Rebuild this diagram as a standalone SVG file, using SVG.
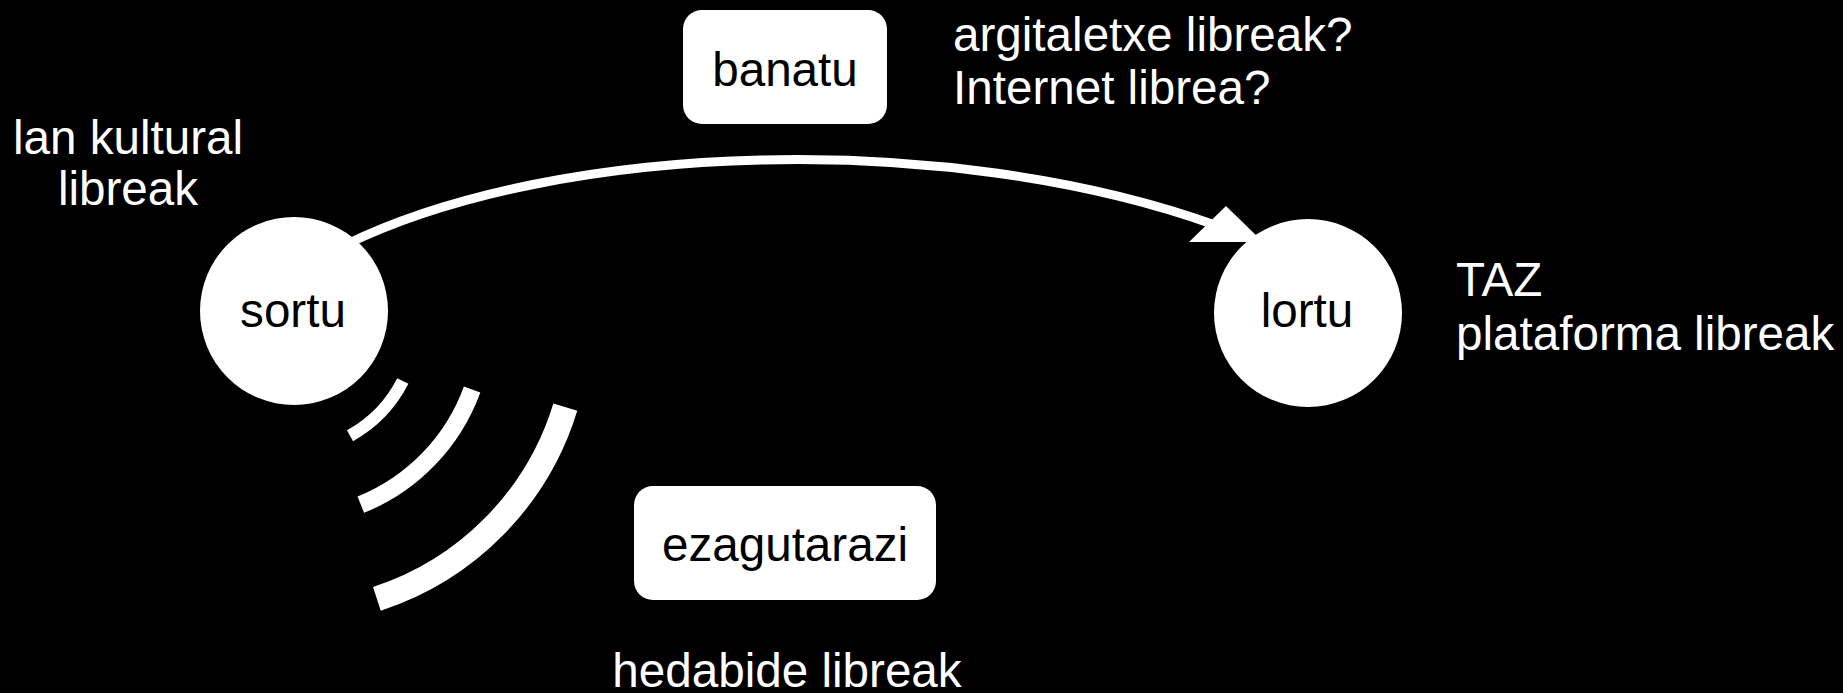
<svg xmlns="http://www.w3.org/2000/svg" width="1843" height="693" viewBox="0 0 1843 693">
<style>
.t{font-family:"Liberation Sans",Arial,sans-serif;font-size:47.6px;fill:#fff}
.c{text-anchor:middle}
.n{fill:#fff}
.w{fill:none;stroke:#fff;stroke-linecap:butt}
</style>
<rect x="0" y="0" width="1843" height="693" fill="#000"/>
<g id="connectors">
<path class="w" d="M345,245 C560,140 950,130 1215,225" stroke-width="9"/>
<polygon class="n" points="1226,206 1189,242 1263,242"/>
</g>
<g id="waves">
<path class="w" d="M402.8,381 A130,130 0 0 1 350,435.7" stroke-width="12.5"/>
<path class="w" d="M472.1,389.4 A197,197 0 0 1 360.8,504.7" stroke-width="17.5"/>
<path class="w" d="M565.3,407.1 A291,291 0 0 1 376.9,598.8" stroke-width="25"/>
</g>
<g id="sortu">
<circle class="n" cx="294" cy="311" r="94"/>
<text class="t c" x="293" y="327" style="fill:#000">sortu</text>
</g>
<g id="lortu">
<circle class="n" cx="1308" cy="313" r="94"/>
<text class="t c" x="1307" y="327" style="fill:#000">lortu</text>
</g>
<g id="banatu">
<rect class="n" x="683" y="10" width="204" height="114" rx="19"/>
<text class="t c" x="785" y="86" style="fill:#000">banatu</text>
</g>
<g id="ezagutarazi">
<rect class="n" x="634" y="486" width="302" height="114" rx="19"/>
<text class="t c" x="785" y="561" style="fill:#000">ezagutarazi</text>
</g>
<g id="labels">
<text class="t c" x="128" y="154">lan kultural</text>
<text class="t c" x="128" y="205">libreak</text>
<text class="t" x="953" y="51">argitaletxe libreak?</text>
<text class="t" x="953" y="104">Internet librea?</text>
<text class="t" x="1456" y="296">TAZ</text>
<text class="t" x="1456" y="350">plataforma libreak</text>
<text class="t c" x="787" y="687">hedabide libreak</text>
</g>
</svg>
